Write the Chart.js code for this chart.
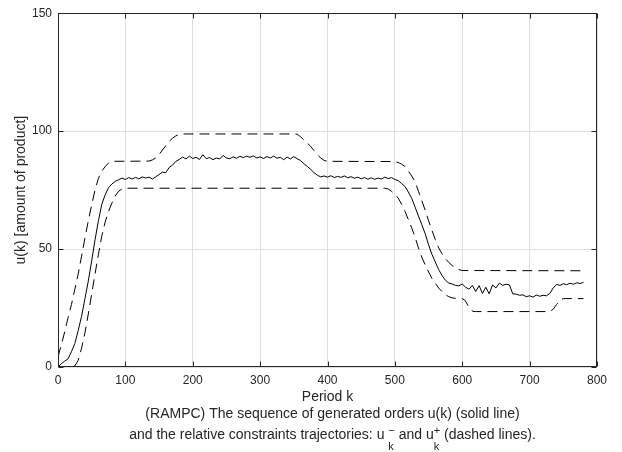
<!DOCTYPE html>
<html>
<head>
<meta charset="utf-8">
<title>RAMPC orders</title>
<script src="https://cdn.jsdelivr.net/npm/chart.js@4.4.1/dist/chart.umd.min.js"></script>
<style>
  html, body { margin: 0; padding: 0; background: #fff; }
</style>
</head>
<body>
<canvas id="ordersChart" width="622" height="452"></canvas>
<script>
  'use strict';

  // Generated orders u(k), read every 5 periods from k = 0 to k = 780.
  var orders = [
    0, 1.4, 2.5, 3.5, 6.5, 10, 15.5, 21.5, 29, 36.5,
    45, 54, 62, 69, 73, 76, 77.6, 78.7, 79.4, 80.1,
    79.5, 80.3, 79.7, 80.4, 79.8, 80.6, 80.1, 80.5, 79.7, 80.6,
    81.6, 82.6, 82.4, 84.6, 85.6, 87.2, 88.0, 89.0, 88.2, 89.4,
    88.4, 88.9, 88.0, 90.0, 88.3, 88.8, 87.9, 88.6, 88.2, 89.7,
    88.6, 88.3, 89.1, 88.5, 89.3, 88.8, 89.4, 88.9, 89.5, 88.6,
    89.1, 88.4, 89.2, 88.6, 89.4, 88.5, 88.9, 87.9, 89.0, 88.2,
    89.2, 88.3, 87.5, 86.2, 85.0, 83.8, 82.4, 81.3, 80.6, 81.0,
    80.5, 81.1, 80.3, 80.8, 80.4, 81.0, 80.2, 80.7, 80.0, 80.5,
    79.8, 80.3, 79.6, 80.2, 79.6, 80.1, 79.7, 80.5, 79.9, 80.3,
    79.5, 79.0, 77.8, 76.5, 74.2, 71.5, 67.8, 64.0, 60.3, 56.5,
    51.8, 47.8, 44.5, 41.3, 38.8, 36.8, 35.6, 35.2, 34.6, 34.4,
    35.2, 33.8, 33.0, 34.6, 32.0, 34.5, 31.2, 33.8, 31.0, 34.8,
    33.5, 35.6, 34.6, 35.1, 34.8, 31.0, 30.9, 30.4, 30.6, 29.8,
    30.2, 29.6, 30.5, 30.0, 30.4, 30.2, 31.2, 33.5, 35.0, 34.6,
    35.3, 34.9, 35.5, 35.1, 35.7, 35.4, 35.9
  ];
  var periods = orders.map(function (v, i) { return i * 5; });

  // Upper constraint trajectory u+ (breakpoints).
  var upperPeriods = [
    0, 5, 10, 15, 20, 25, 30, 35, 40, 45, 50, 55, 60, 65, 70, 75, 80,
    135, 140, 145, 150, 155, 160, 165, 170, 175, 180, 185,
    350, 355, 360, 365, 370, 375, 380, 385, 390, 395, 400,
    500, 505, 510, 515, 520, 525, 530, 535, 540, 545, 550, 555, 560, 565, 570, 575, 580, 585, 590, 595, 600,
    780
  ];
  var upperBound = [
    4.3, 9.5, 15, 21, 26.5, 33, 39.5, 47, 54.7, 62, 68.8, 75, 80, 83, 85, 86.5, 87.2,
    87.3, 87.8, 88.6, 90, 92, 93.8, 95.6, 97, 98, 98.6, 98.8,
    98.8, 98.7, 97.6, 96.3, 95, 93.5, 91.8, 90, 88.6, 87.6, 87.2,
    87.1, 86.7, 86, 85, 83, 81, 78.5, 74.5, 70.5, 66.5, 62, 58, 54, 50.5, 48, 46, 44.3, 43, 42, 41.3, 40.9,
    40.8
  ];

  // Lower constraint trajectory u- (breakpoints).
  var lowerPeriods = [
    0, 20, 25, 30, 35, 40, 45, 50, 55, 60, 65, 70, 75, 80, 85, 90, 95, 100,
    485, 490, 495, 500, 505, 510, 515, 520, 525, 530, 535, 540, 545, 550, 555, 560, 565, 570, 575, 580, 585, 590,
    600, 604, 608, 612, 616, 620,
    730, 735, 740, 745, 750,
    780
  ];
  var lowerBound = [
    0, 0, 0.5, 2.8, 8, 14.5, 22.5, 31, 39.5, 47.8, 55.5, 61.5, 66, 69.5, 72.5, 74.5, 75.5, 75.8,
    75.8, 75.5, 74.5, 73.3, 71.6, 69, 66, 62.5, 59, 55, 50.5, 46.5, 43.3, 40.3, 37.6, 35.5, 33.5, 32, 30.7, 29.8, 29.3, 29.1,
    29, 28.3, 26.3, 24.4, 23.6, 23.5,
    23.5, 24.5, 26.5, 28.3, 29,
    29
  ];

  var xTicks = [0, 100, 200, 300, 400, 500, 600, 700, 800];
  var yTicks = [0, 50, 100, 150];

  var captionLine1 = '(RAMPC) The sequence of generated orders u(k) (solid line)';
  var captionLine2 = ['and the relative constraints trajectories: u ', ['\u2212', 'k'], ' and u', ['+', 'k'], ' (dashed lines).'];

  var FONT = '"Liberation Sans", Arial, Helvetica, sans-serif';
  var INK = '#262626';

  function toPoints(xs, ys) {
    return xs.map(function (x, i) { return { x: x, y: ys[i] }; });
  }

  // MATLAB-style box with inward tick marks.
  var boxPlugin = {
    id: 'boxPlugin',
    afterDraw: function (chart) {
      var ctx = chart.ctx;
      var a = chart.chartArea;
      var xs = chart.scales.x, ys = chart.scales.y;
      var l = Math.round(a.left) + 0.5, r = Math.round(a.right) - 0.5;
      var t = Math.round(a.top) + 0.5, b = Math.round(a.bottom) - 0.5;
      ctx.save();
      ctx.strokeStyle = INK;
      ctx.lineWidth = 1;
      ctx.strokeRect(l, t, r - l, b - t);
      ctx.beginPath();
      xTicks.forEach(function (v) {
        var px = Math.round(xs.getPixelForValue(v)) + 0.5;
        ctx.moveTo(px, b); ctx.lineTo(px, b - 5);
        ctx.moveTo(px, t); ctx.lineTo(px, t + 5);
      });
      yTicks.forEach(function (v) {
        var py = Math.round(ys.getPixelForValue(v)) + 0.5;
        ctx.moveTo(l, py); ctx.lineTo(l + 5, py);
        ctx.moveTo(r, py); ctx.lineTo(r - 5, py);
      });
      ctx.stroke();
      ctx.restore();
    }
  };

  // Two-line caption under the x axis title, with u_k^- / u_k^+ notation.
  var captionPlugin = {
    id: 'captionPlugin',
    afterDraw: function (chart) {
      var ctx = chart.ctx;
      var a = chart.chartArea;
      var cx = (a.left + a.right) / 2 + 5;
      var main = '14px ' + FONT, small = '11px ' + FONT;
      ctx.save();
      ctx.fillStyle = INK;
      ctx.textBaseline = 'alphabetic';
      ctx.font = main;
      ctx.textAlign = 'center';
      ctx.fillText(captionLine1, cx, 418);

      ctx.textAlign = 'left';
      var widths = captionLine2.map(function (p) {
        if (typeof p === 'string') { ctx.font = main; return ctx.measureText(p).width; }
        ctx.font = small;
        return Math.max(ctx.measureText(p[0]).width, ctx.measureText(p[1]).width);
      });
      var total = widths.reduce(function (s, w) { return s + w; }, 0);
      var x = cx - total / 2;
      captionLine2.forEach(function (p, i) {
        if (typeof p === 'string') {
          ctx.font = main;
          ctx.fillText(p, x, 438.5);
        } else {
          ctx.font = small;
          ctx.fillText(p[0], x, 434);
          ctx.fillText(p[1], x, 450);
        }
        x += widths[i];
      });
      ctx.restore();
    }
  };

  Chart.defaults.font.family = FONT;
  Chart.defaults.color = INK;

  new Chart(document.getElementById('ordersChart'), {
    type: 'line',
    data: {
      datasets: [
        {
          label: 'u(k)',
          data: toPoints(periods, orders),
          borderColor: '#000',
          borderWidth: 1,
          pointRadius: 0,
          tension: 0
        },
        {
          label: 'u+',
          data: toPoints(upperPeriods, upperBound),
          borderColor: '#000',
          borderWidth: 1,
          borderDash: [10, 6],
          pointRadius: 0,
          tension: 0
        },
        {
          label: 'u-',
          data: toPoints(lowerPeriods, lowerBound),
          borderColor: '#000',
          borderWidth: 1,
          borderDash: [10, 6],
          pointRadius: 0,
          tension: 0
        }
      ]
    },
    options: {
      responsive: false,
      devicePixelRatio: 1,
      animation: false,
      layout: { padding: { left: 0, right: 25, top: 10, bottom: 0 } },
      plugins: {
        legend: { display: false },
        tooltip: { enabled: false }
      },
      scales: {
        x: {
          type: 'linear',
          min: 0,
          max: 800,
          afterBuildTicks: function (scale) {
            scale.ticks = xTicks.map(function (v) { return { value: v }; });
          },
          afterFit: function (scale) { scale.height = 85; },
          grid: { color: '#dfdfdf', lineWidth: 1, drawTicks: false },
          border: { display: false },
          ticks: { font: { size: 12 }, color: INK, padding: 6, maxRotation: 0 },
          title: {
            display: true,
            text: 'Period k',
            font: { size: 14 },
            color: INK,
            padding: { top: 0, bottom: 46 }
          }
        },
        y: {
          type: 'linear',
          min: 0,
          max: 150,
          afterBuildTicks: function (scale) {
            scale.ticks = yTicks.map(function (v) { return { value: v }; });
          },
          afterFit: function (scale) { scale.width = 58; },
          grid: { color: '#dfdfdf', lineWidth: 1, drawTicks: false },
          border: { display: false },
          ticks: { font: { size: 12 }, color: INK, padding: 6 },
          title: {
            display: true,
            text: 'u(k) [amount of product]',
            font: { size: 14 },
            color: INK,
            padding: { top: 13, bottom: 0 }
          }
        }
      }
    },
    plugins: [boxPlugin, captionPlugin]
  });
</script>
</body>
</html>
